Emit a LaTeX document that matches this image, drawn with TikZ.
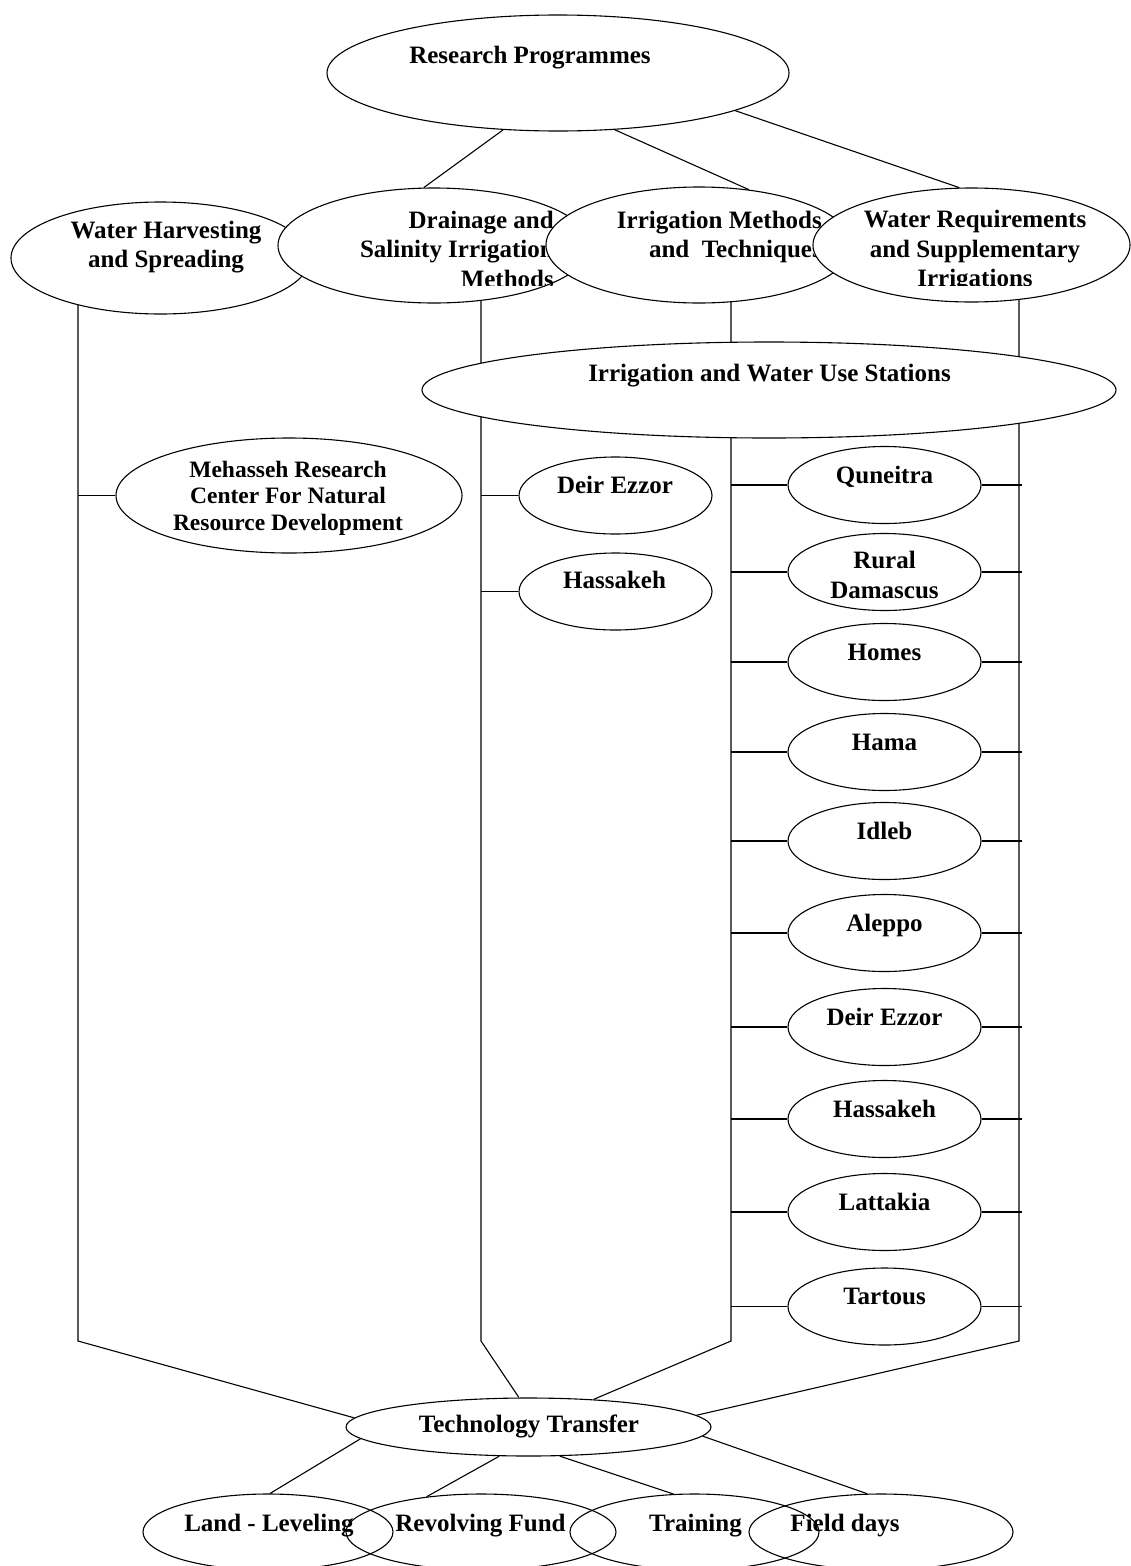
\documentclass[tikz,border=0pt]{standalone}
\usepackage{fontspec}
\setmainfont{Liberation Serif}
\usetikzlibrary{shapes.geometric,backgrounds}

\tikzset{
  oval/.style={shape=ellipse, draw=black, line width=1.1pt, inner sep=0pt, fill=white},
  hollow/.style={shape=ellipse, draw=black, line width=1.1pt, inner sep=0pt},
  ovalwh/.style 2 args={minimum width=#1pt, minimum height=#2pt},
  lbl/.style={font=\fontsize{25}{29.5}\selectfont\bfseries, inner sep=0pt, align=center},
  conn/.style={line width=1.1pt},
}

\begin{document}
\begin{tikzpicture}[x=1pt, y=-1pt]
    \useasboundingbox (0,0) rectangle (1130,1566);

    \node[oval, ovalwh={462}{116}] (rp) at (558,73) {};
    \node[lbl, anchor=base] (rpT) at (530,63) {Research Programmes};

    \node[oval, ovalwh={299}{112}] (wh) at (160.5,258) {};
    \node[lbl] (whT) at (166,247) {Water Harvesting\\and Spreading};

    \node[oval, ovalwh={312}{115}] (dr) at (434,245.5) {};
    \begin{scope}
        \clip (0,0) rectangle (1130,285);
        \node[lbl, align=right, anchor=east] (drT) at (554,249) {Drainage and\\Salinity Irrigation\\Methods};
    \end{scope}

    \node[oval, ovalwh={306}{116}] (im) at (699,245) {};
    \node[lbl, align=right, anchor=east] (imT) at (822,237) {Irrigation Methods\\and\ \ Techniques};

    \node[oval, ovalwh={317}{114}] (wr) at (971.5,245) {};
    \begin{scope}
        \clip (0,0) rectangle (1130,285);
        \node[lbl] (wrT) at (975,251.5) {Water Requirements\\and Supplementary\\Irrigations};
    \end{scope}

    \node[oval, ovalwh={694}{96}] (st) at (769,390) {};
    \node[lbl, anchor=base] (stT) at (769.5,381) {Irrigation and Water Use Stations};

    \node[oval, ovalwh={346}{115}] (me) at (289,495.5) {};
    \node[lbl, font=\fontsize{23.5}{26.5}\selectfont\bfseries] (meT) at (288,498) {Mehasseh Research\\Center For Natural\\Resource Development};

    \node[oval, ovalwh={193}{77}] (de) at (615.5,495.5) {};
    \node[lbl, anchor=base] (deT) at (615,493) {Deir Ezzor};
    \node[oval, ovalwh={193}{77}] (ha) at (615.5,591.5) {};
    \node[lbl, anchor=base] (haT) at (614.5,588.5) {Hassakeh};

    \node[oval, ovalwh={193}{77}] (qun) at (884.5,485) {};
    \node[lbl, anchor=base] (qunT) at (884.5,483) {Quneitra};
    \node[oval, ovalwh={193}{77}] (rud) at (884.5,572) {};
    \node[lbl, font=\fontsize{25}{30}\selectfont\bfseries] (rudT) at (884.5,574.5) {Rural\\Damascus};
    \node[oval, ovalwh={193}{77}] (hom) at (884.5,662) {};
    \node[lbl, anchor=base] (homT) at (884.5,660) {Homes};
    \node[oval, ovalwh={193}{77}] (ham) at (884.5,752) {};
    \node[lbl, anchor=base] (hamT) at (884.5,750) {Hama};
    \node[oval, ovalwh={193}{77}] (idl) at (884.5,841) {};
    \node[lbl, anchor=base] (idlT) at (884.5,839) {Idleb};
    \node[oval, ovalwh={193}{77}] (ale) at (884.5,933) {};
    \node[lbl, anchor=base] (aleT) at (884.5,931) {Aleppo};
    \node[oval, ovalwh={193}{77}] (dez) at (884.5,1027) {};
    \node[lbl, anchor=base] (dezT) at (884.5,1025) {Deir Ezzor};
    \node[oval, ovalwh={193}{77}] (has) at (884.5,1119) {};
    \node[lbl, anchor=base] (hasT) at (884.5,1117) {Hassakeh};
    \node[oval, ovalwh={193}{77}] (lat) at (884.5,1212) {};
    \node[lbl, anchor=base] (latT) at (884.5,1210) {Lattakia};
    \node[oval, ovalwh={193}{77}] (tar) at (884.5,1306.5) {};
    \node[lbl, anchor=base] (tarT) at (884.5,1304) {Tartous};

    \node[oval, ovalwh={365}{58}] (tt) at (528.5,1427) {};
    \node[lbl, anchor=base] (ttT) at (529,1432) {Technology Transfer};

    \node[hollow, ovalwh={250}{76}] (ll) at (268,1532) {};
    \node[lbl, anchor=base] (llT) at (269,1531) {Land - Leveling};
    \node[hollow, ovalwh={270}{76}] (rf) at (481,1532) {};
    \node[lbl, anchor=base] (rfT) at (480.5,1531) {Revolving Fund};
    \node[hollow, ovalwh={249}{76}] (tr) at (694.5,1532) {};
    \node[lbl, anchor=base] (trT) at (695.5,1531) {Training};
    \node[hollow, ovalwh={264}{76}] (fd) at (881,1532) {};
    \node[lbl, anchor=base] (fdT) at (845,1531) {Field days};

    \coordinate (wcorner) at (78,1341);
    \coordinate (dcorner) at (481,1341);
    \coordinate (icorner) at (731,1341);
    \coordinate (rcorner) at (1019,1341);

    \begin{pgfonlayer}{background}
        \draw[conn] (rp.-134) -- (dr.100);
        \draw[conn] (rp.-45) -- (im.48);
        \draw[conn] (rp.-12) -- (wr.102);

        \draw[conn] (wcorner |- wh.center) -- (wcorner) -- (tt.177);
        \draw[conn] (dcorner |- dr.center) -- (dcorner) -- (tt.108);
        \draw[conn] (icorner |- im.center) -- (icorner) -- (tt.23);
        \draw[conn] (rcorner |- wr.center) -- (rcorner) -- (tt.4);

        \draw[conn] (me.west -| wcorner) -- (me.west);
        \draw[conn] (de.west -| dcorner) -- (de.west);
        \draw[conn] (ha.west -| dcorner) -- (ha.west);

        \draw[conn] (qun.west -| icorner) -- (qun.west);  \draw[conn] (qun.east) -- ++(40,0);
        \draw[conn] (rud.west -| icorner) -- (rud.west);  \draw[conn] (rud.east) -- ++(40,0);
        \draw[conn] (hom.west -| icorner) -- (hom.west);  \draw[conn] (hom.east) -- ++(40,0);
        \draw[conn] (ham.west -| icorner) -- (ham.west);  \draw[conn] (ham.east) -- ++(40,0);
        \draw[conn] (idl.west -| icorner) -- (idl.west);  \draw[conn] (idl.east) -- ++(40,0);
        \draw[conn] (ale.west -| icorner) -- (ale.west);  \draw[conn] (ale.east) -- ++(40,0);
        \draw[conn] (dez.west -| icorner) -- (dez.west);  \draw[conn] (dez.east) -- ++(40,0);
        \draw[conn] (has.west -| icorner) -- (has.west);  \draw[conn] (has.east) -- ++(40,0);
        \draw[conn] (lat.west -| icorner) -- (lat.west);  \draw[conn] (lat.east) -- ++(40,0);
        \draw[conn] (tar.west -| icorner) -- (tar.west);  \draw[conn] (tar.east) -- ++(40,0);

        \draw[conn] (tt.-176) -- (ll.87);
        \draw[conn] (tt.-135) -- (rf.147);
        \draw[conn] (tt.-43) -- (tr.119);
        \draw[conn] (tt.-3) -- (fd.110);
    \end{pgfonlayer}
\end{tikzpicture}
\end{document}
